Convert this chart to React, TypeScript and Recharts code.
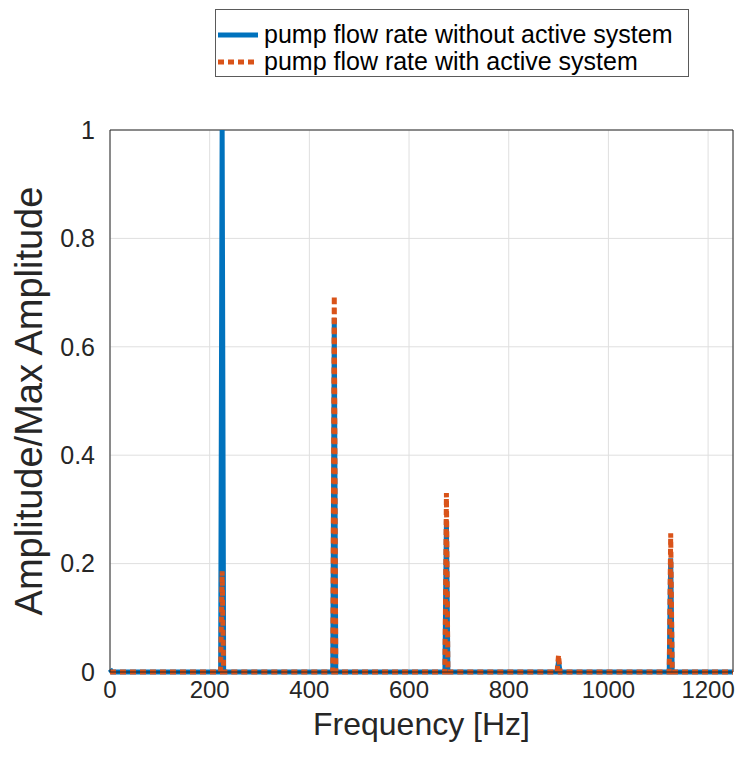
import React from "react";
import { LineChart, Line, XAxis, YAxis, CartesianGrid, ReferenceLine } from "recharts";

// ── DATA ──────────────────────────────────────────────────────
const freqHz = [0, 4, 222, 225, 228, 447, 450, 453, 672, 675, 678, 897, 900, 903, 1122, 1125, 1128, 1250];
const withoutActive = [0.005, 0, 0, 1.0, 0, 0, 0.653, 0, 0, 0.28, 0, 0, 0.02, 0, 0, 0.21, 0, 0];
const withActive = [0, 0, 0, 0.186, 0, 0, 0.694, 0, 0, 0.33, 0, 0, 0.031, 0, 0, 0.256, 0, 0];
const xTicks = [0, 200, 400, 600, 800, 1000, 1200];
const yTicks = [0, 0.2, 0.4, 0.6, 0.8, 1];

const SERIES = [
    { key: "without", name: "pump flow rate without active system", color: "#0072BD", dash: undefined },
    { key: "with", name: "pump flow rate with active system", color: "#D95319", dash: "6 4" },
];

const data = freqHz.map((f, i) => ({ f, without: withoutActive[i], with: withActive[i] }));

const FONT = "'Liberation Sans', Arial, sans-serif";
const AXIS = "#262626";
const GRID = "#dfdfdf";

// ── LEGEND BOX ────────────────────────────────────────────────
const BoxLegend = () => (
    <div
        style={{
            position: "absolute",
            left: 215,
            top: 9,
            width: 474,
            height: 68,
            border: "1.5px solid #5a5a5a",
            background: "#fff",
            padding: "11px 8px 4px 2px",
            fontFamily: FONT,
            fontSize: 25,
            color: "#000",
            boxSizing: "border-box",
        }}
    >
        {SERIES.map(s => (
            <div key={s.key} style={{ display: "flex", alignItems: "center", height: 27, lineHeight: "27px" }}>
                <svg width={42} height={10} style={{ marginRight: 4 }}>
                    <line x1={0} y1={5} x2={40} y2={5} stroke={s.color} strokeWidth={5} strokeDasharray={s.dash} />
                </svg>
                <span>{s.name}</span>
            </div>
        ))}
    </div>
);

export default function App() {
    return (
        <div style={{ position: "absolute", left: 0, top: 0, width: 743, height: 767, background: "#fff" }}>
            <LineChart
                width={743}
                height={767}
                data={data}
                margin={{ top: 130, right: 10, left: 0, bottom: 35 }}
                style={{ fontFamily: FONT }}
            >
                <CartesianGrid stroke={GRID} strokeWidth={1} />
                <XAxis
                    dataKey="f"
                    type="number"
                    domain={[0, 1250]}
                    ticks={xTicks}
                    height={60}
                    stroke={AXIS}
                    tickLine={false}
                    tickMargin={3}
                    tick={{ fontSize: 24, fill: AXIS }}
                    label={{ value: "Frequency [Hz]", position: "center", dy: 22, fontSize: 32, fill: AXIS }}
                />
                <YAxis
                    type="number"
                    domain={[0, 1]}
                    ticks={yTicks}
                    width={110}
                    stroke={AXIS}
                    tickLine={false}
                    tickMargin={9}
                    tick={{ fontSize: 25, fill: AXIS }}
                    label={{ value: "Amplitude/Max Amplitude", angle: -90, position: "center", dx: -26, fontSize: 38, fill: AXIS }}
                />
                <ReferenceLine y={1} stroke={AXIS} strokeWidth={1} />
                <ReferenceLine x={1250} stroke={AXIS} strokeWidth={1} />
                {SERIES.map(s => (
                    <Line
                        key={s.key}
                        dataKey={s.key}
                        name={s.name}
                        type="linear"
                        stroke={s.color}
                        strokeWidth={5}
                        strokeDasharray={s.dash}
                        dot={false}
                        isAnimationActive={false}
                    />
                ))}
            </LineChart>
            <BoxLegend />
        </div>
    );
}
